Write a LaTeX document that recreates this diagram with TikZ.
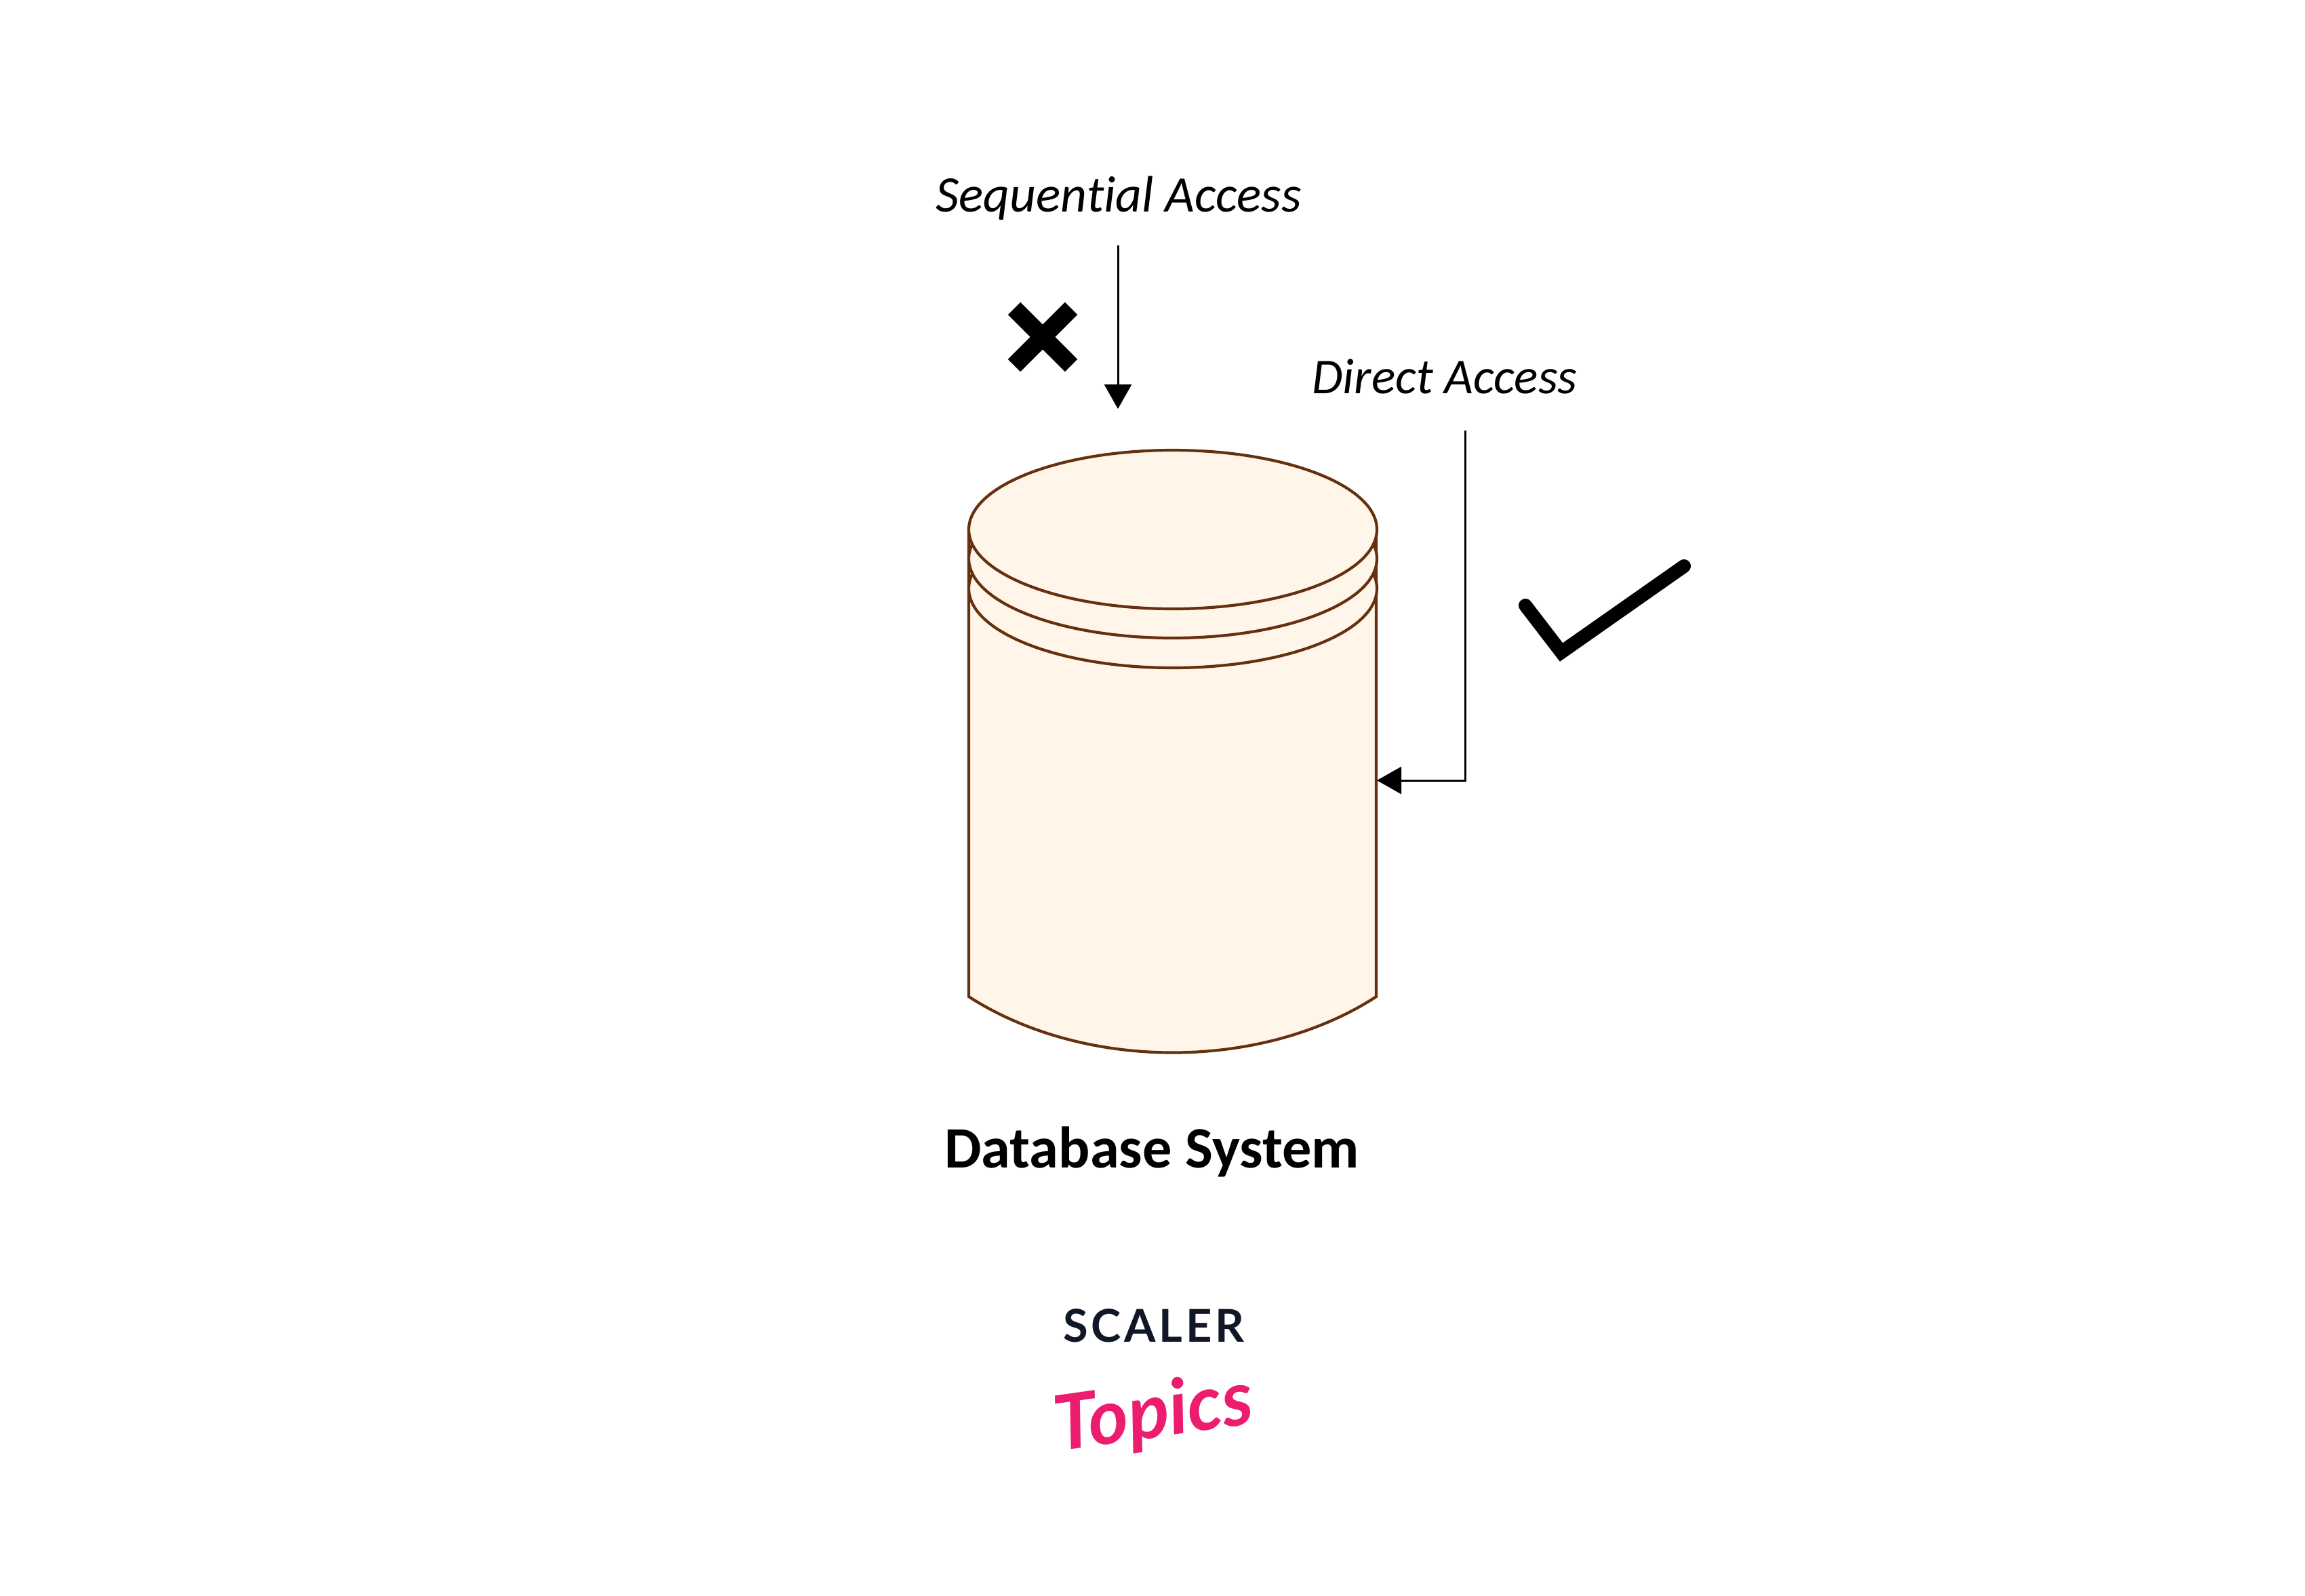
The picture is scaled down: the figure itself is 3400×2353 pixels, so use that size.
\documentclass[tikz,border=0pt]{standalone}
\usepackage{fontspec}
\usepackage{xcolor}
\usepackage{tikz}
\usetikzlibrary{arrows.meta,positioning,calc}
\setmainfont{Carlito}[Ligatures=NoCommon]
\newfontfamily\logofont{Lato}
\newfontfamily\scalerfont{Lato}[LetterSpace=7]
\definecolor{cylfill}{HTML}{FFF5E8}
\definecolor{cylline}{HTML}{65300F}
\definecolor{logonavy}{HTML}{101828}
\definecolor{logopink}{HTML}{EC1C6F}
\tikzset{
  cyl/.style={draw=cylline, fill=cylfill, line width=.042cm},
  ar/.style={-{Triangle[length=.36cm,width=.4cm]}, line width=.03cm, draw=black},
  lbl/.style={font=\fontsize{21.5}{25}\selectfont\itshape, inner sep=0pt},
  ttl/.style={font=\fontsize{24.6}{29}\selectfont\bfseries, inner sep=0pt},
  crossln/.style={line width=.26cm, draw=black},
  tickln/.style={line width=.2cm, draw=black, line cap=round, miter limit=10},
}

\begin{document}
\begin{tikzpicture}[x=.01cm,y=-.01cm]
        \useasboundingbox (0,0) rectangle (3400,2353);
        \fill[white] (0,0) rectangle (3400,2353);
        % cylinder
        \draw[cyl] (1429,781) -- (1429,1470) .. controls (1600,1580) and (1860,1580) .. (2030,1470) -- (2030,781) -- cycle;
        \foreach \j in {87,43,0}{
          \draw[cyl] (1730,781+\j) ellipse [x radius=301, y radius=117];
        }
        \coordinate (cylside) at (2031,1151);
        % labels
        \node[lbl] (seqlbl) at (1650,292) {Sequential Access};
        \node[lbl, font=\fontsize{21}{25}\selectfont\itshape] (dirlbl) at (2131,555) {Direct Access};
        \node[ttl] (dbname) at (1699,1699) {Database System};
        % arrows
        \coordinate (seqtop) at (1649,362);
        \coordinate (seqend) at (1649,603);
        \coordinate (dirtop) at (2161,635);
        \draw[ar] (seqtop) -- (seqend);
        \draw[ar] (dirtop) |- (cylside);
        % cross and tick
        \draw[crossln] (1496,455) -- (1580,539);
        \draw[crossln] (1580,455) -- (1496,539);
        \draw[tickln] (2250,893) -- (2303,962) -- (2484,835);
        % logo
        \node[font=\scalerfont\fontsize{19}{22}\selectfont\bfseries, text=logonavy, inner sep=0pt] (scaler) at (1702,1955) {SCALER};
        \node[font=\logofont\fontsize{32}{38}\selectfont\bfseries\itshape, text=logopink, inner sep=0pt, rotate=8] (topics) at (1702,2088) {Topics};
      \end{tikzpicture}
\end{document}
